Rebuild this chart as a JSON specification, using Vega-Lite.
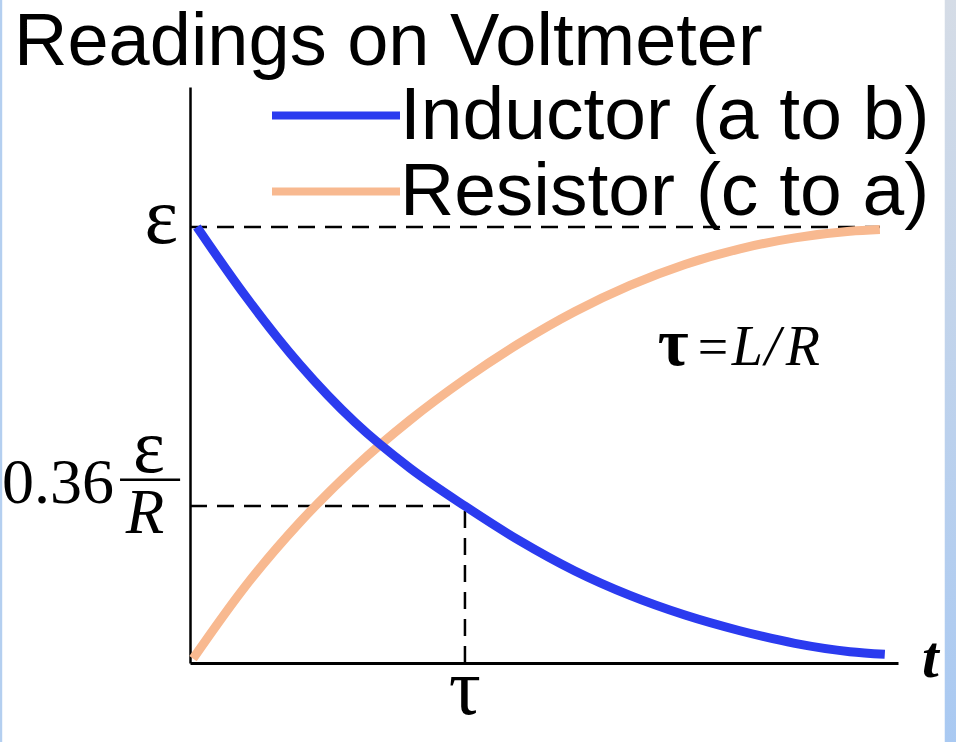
{
  "$schema": "https://vega.github.io/schema/vega-lite/v6.json",
  "width": 708,
  "height": 576,
  "autosize": {"type": "none"},
  "padding": {"left": 190, "top": 87, "right": 58, "bottom": 79},
  "background": "white",
  "title": {
    "text": "Readings on Voltmeter",
    "anchor": "start",
    "frame": "group",
    "font": "Liberation Sans",
    "fontSize": 74,
    "fontWeight": "normal",
    "color": "black",
    "dx": -176,
    "dy": 87,
    "offset": 6
  },
  "config": {
    "view": {"stroke": null},
    "axis": {"grid": false, "ticks": false, "labels": false, "title": null, "domainColor": "black"},
    "legend": {
      "orient": "none",
      "legendX": 78,
      "legendY": -5,
      "title": null,
      "padding": 0,
      "symbolType": "stroke",
      "symbolSize": 16384,
      "symbolStrokeWidth": 8,
      "clipHeight": 67,
      "labelFont": "Liberation Sans",
      "labelFontSize": 75,
      "labelColor": "black",
      "labelOffset": -4,
      "labelLimit": 0,
      "rowPadding": 0
    }
  },
  "datasets": {
    "curves": [
      {"t": 0.025, "v": 1.0, "series": "Inductor (a to b)"},
      {"t": 0.2, "v": 0.843, "series": "Inductor (a to b)"},
      {"t": 0.4, "v": 0.684, "series": "Inductor (a to b)"},
      {"t": 0.6, "v": 0.552, "series": "Inductor (a to b)"},
      {"t": 0.8, "v": 0.447, "series": "Inductor (a to b)"},
      {"t": 1.0, "v": 0.36, "series": "Inductor (a to b)"},
      {"t": 1.2, "v": 0.28, "series": "Inductor (a to b)"},
      {"t": 1.4, "v": 0.211, "series": "Inductor (a to b)"},
      {"t": 1.6, "v": 0.155, "series": "Inductor (a to b)"},
      {"t": 1.8, "v": 0.11, "series": "Inductor (a to b)"},
      {"t": 2.0, "v": 0.074, "series": "Inductor (a to b)"},
      {"t": 2.2, "v": 0.045, "series": "Inductor (a to b)"},
      {"t": 2.4, "v": 0.026, "series": "Inductor (a to b)"},
      {"t": 2.527, "v": 0.02, "series": "Inductor (a to b)"},
      {"t": 0.011, "v": 0.01, "series": "Resistor (c to a)"},
      {"t": 0.2, "v": 0.175, "series": "Resistor (c to a)"},
      {"t": 0.4, "v": 0.323, "series": "Resistor (c to a)"},
      {"t": 0.6, "v": 0.449, "series": "Resistor (c to a)"},
      {"t": 0.8, "v": 0.557, "series": "Resistor (c to a)"},
      {"t": 1.0, "v": 0.651, "series": "Resistor (c to a)"},
      {"t": 1.2, "v": 0.734, "series": "Resistor (c to a)"},
      {"t": 1.4, "v": 0.806, "series": "Resistor (c to a)"},
      {"t": 1.6, "v": 0.866, "series": "Resistor (c to a)"},
      {"t": 1.8, "v": 0.914, "series": "Resistor (c to a)"},
      {"t": 2.0, "v": 0.95, "series": "Resistor (c to a)"},
      {"t": 2.2, "v": 0.975, "series": "Resistor (c to a)"},
      {"t": 2.4, "v": 0.99, "series": "Resistor (c to a)"},
      {"t": 2.509, "v": 0.994, "series": "Resistor (c to a)"}
    ],
    "guides": [
      {"t": 0, "t2": 2.509, "v": 1, "v2": 1},
      {"t": 0, "t2": 1, "v": 0.36, "v2": 0.36},
      {"t": 1, "t2": 1, "v": 0, "v2": 0.36}
    ],
    "bands": [
      {"edge": "left", "t": -0.7, "t2": -0.683, "v": -0.19, "v2": 1.5206},
      {"edge": "right", "t": 2.745, "t2": 2.79, "v": -0.19, "v2": 1.5206}
    ]
  },
  "encoding": {
    "x": {"field": "t", "type": "quantitative", "scale": {"domain": [0, 2.575], "nice": false, "zero": false},
          "axis": {"domainWidth": 3}},
    "y": {"field": "v", "type": "quantitative", "scale": {"domain": [0, 1.321], "nice": false, "zero": false},
          "axis": {"domainWidth": 2.5}}
  },
  "layer": [
    {
      "data": {"name": "bands"},
      "transform": [{"filter": "datum.edge === 'right'"}],
      "mark": {"type": "rect", "clip": false, "fill": {"gradient": "linear", "x1": 0, "y1": 0, "x2": 0, "y2": 1,
        "stops": [{"offset": 0, "color": "#d5dce6"}, {"offset": 1, "color": "#a9c9f2"}]}},
      "encoding": {"x2": {"field": "t2"}, "y2": {"field": "v2"}}
    },
    {
      "data": {"name": "bands"},
      "transform": [{"filter": "datum.edge === 'left'"}],
      "mark": {"type": "rect", "clip": false, "fill": "#b4cff0"},
      "encoding": {"x2": {"field": "t2"}, "y2": {"field": "v2"}}
    },
    {
      "data": {"name": "guides"},
      "mark": {"type": "rule", "color": "black", "strokeWidth": 2.5, "strokeDash": [17, 10]},
      "encoding": {
        "x2": {"field": "t2"},
        "y2": {"field": "v2"}
      }
    },
    {
      "data": {"name": "curves"},
      "transform": [{"filter": "datum.series === 'Resistor (c to a)'"}],
      "mark": {"type": "line", "strokeWidth": 9, "interpolate": "monotone"},
      "encoding": {
        "color": {"field": "series", "type": "nominal",
          "scale": {"domain": ["Inductor (a to b)", "Resistor (c to a)"], "range": ["#2b3bef", "#f8b990"]},
          "legend": {"encode": {"symbols": {"update": {
            "stroke": {"signal": "datum.value === 'Inductor (a to b)' ? '#0000ff' : '#ffc864'"},
            "opacity": {"value": 1}}}}}}
      }
    },
    {
      "data": {"name": "curves"},
      "transform": [{"filter": "datum.series === 'Inductor (a to b)'"}],
      "mark": {"type": "line", "strokeWidth": 9, "interpolate": "monotone"},
      "encoding": {
        "color": {"field": "series", "type": "nominal"}
      }
    },
    {
      "data": {"values": [{"label": "ε", "t": 0, "v": 1}]},
      "mark": {"type": "text", "clip": false, "font": "Liberation Serif", "fontSize": 80, "align": "right", "baseline": "alphabetic", "dx": -12, "dy": 16, "color": "black"},
      "encoding": {"text": {"field": "label"}}
    },
    {
      "data": {"values": [{"label": "0.36", "t": 0, "v": 0.36}]},
      "mark": {"type": "text", "clip": false, "font": "Liberation Serif", "fontSize": 64, "align": "right", "baseline": "alphabetic", "dx": -76, "dy": -3, "color": "black"},
      "encoding": {"text": {"field": "label"}}
    },
    {
      "data": {"values": [{"label": "ε", "t": 0, "v": 0.36}]},
      "mark": {"type": "text", "clip": false, "font": "Liberation Serif", "fontSize": 76, "align": "center", "baseline": "alphabetic", "dx": -41, "dy": -34, "color": "black"},
      "encoding": {"text": {"field": "label"}}
    },
    {
      "data": {"values": [{"label": "R", "t": 0, "v": 0.36}]},
      "mark": {"type": "text", "clip": false, "font": "Liberation Serif", "fontSize": 63, "fontStyle": "italic", "align": "center", "baseline": "alphabetic", "dx": -45, "dy": 27, "color": "black"},
      "encoding": {"text": {"field": "label"}}
    },
    {
      "data": {"values": [{"part": "fraction bar", "t": -0.2545, "t2": -0.036, "v": 0.42}]},
      "mark": {"type": "rule", "clip": false, "color": "black", "strokeWidth": 2.5},
      "encoding": {"x2": {"field": "t2"}}
    },
    {
      "data": {"values": [{"label": "τ", "t": 1, "v": 0}]},
      "mark": {"type": "text", "clip": false, "font": "Liberation Serif", "fontSize": 80, "align": "center", "baseline": "alphabetic", "dy": 51, "color": "black"},
      "encoding": {"text": {"field": "label"}}
    },
    {
      "data": {"values": [{"label": "t", "t": 2.575, "v": 0}]},
      "mark": {"type": "text", "clip": false, "font": "Liberation Serif", "fontSize": 60, "fontStyle": "italic", "fontWeight": "bold", "align": "left", "baseline": "alphabetic", "dx": 24, "dy": 14, "color": "black"},
      "encoding": {"text": {"field": "label"}}
    },
    {
      "data": {"values": [{"label": "τ", "t": 1.69, "v": 0.683}]},
      "mark": {"type": "text", "font": "Liberation Serif", "fontSize": 67, "fontWeight": "bold", "align": "left", "baseline": "alphabetic", "dx": 3, "color": "black"},
      "encoding": {"text": {"field": "label"}}
    },
    {
      "data": {"values": [{"label": "=", "t": 1.69, "v": 0.683}]},
      "mark": {"type": "text", "font": "Liberation Serif", "fontSize": 54, "align": "left", "baseline": "alphabetic", "dx": 43, "color": "black"},
      "encoding": {"text": {"field": "label"}}
    },
    {
      "data": {"values": [{"label": "L", "t": 1.69, "v": 0.683}]},
      "mark": {"type": "text", "font": "Liberation Serif", "fontSize": 56, "fontStyle": "italic", "align": "left", "baseline": "alphabetic", "dx": 77, "color": "black"},
      "encoding": {"text": {"field": "label"}}
    },
    {
      "data": {"values": [{"label": "/", "t": 1.69, "v": 0.683}]},
      "mark": {"type": "text", "font": "Liberation Serif", "fontSize": 56, "fontStyle": "italic", "align": "left", "baseline": "alphabetic", "dx": 110, "color": "black"},
      "encoding": {"text": {"field": "label"}}
    },
    {
      "data": {"values": [{"label": "R", "t": 1.69, "v": 0.683}]},
      "mark": {"type": "text", "font": "Liberation Serif", "fontSize": 56, "fontStyle": "italic", "align": "left", "baseline": "alphabetic", "dx": 131, "color": "black"},
      "encoding": {"text": {"field": "label"}}
    }
  ]
}
